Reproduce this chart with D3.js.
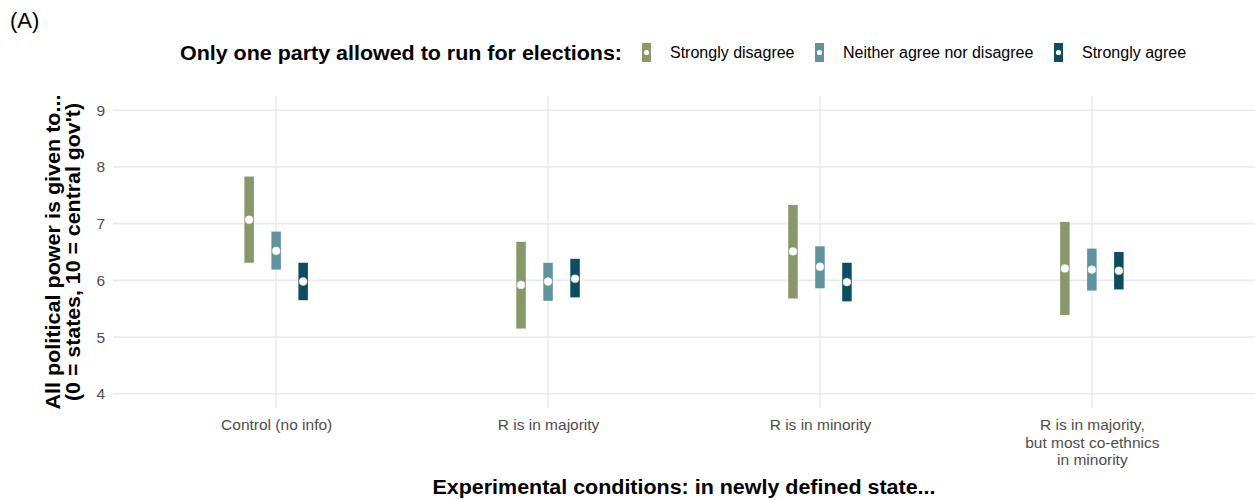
<!DOCTYPE html>
<html>
<head>
<meta charset="utf-8">
<script src="https://cdn.jsdelivr.net/npm/d3@7"></script>
<style>
  html, body { margin: 0; padding: 0; background: #fff; }
  svg { display: block; font-family: "Liberation Sans", Arial, Helvetica, sans-serif; }
</style>
</head>
<body>
<svg id="chart" width="1255" height="500"></svg>
<script>
// Experimental conditions (x categories)
const conditions = [
  "Control (no info)",
  "R is in majority",
  "R is in minority",
  "R is in majority,\nbut most co-ethnics\nin minority"
];
// Response groups (legend)
const responses = ["Strongly disagree", "Neither agree nor disagree", "Strongly agree"];
const colors = ["#87996a", "#5f939d", "#0b4e62"];

// Point estimates, per response, per condition
const estDisagree = [7.07, 5.92, 6.51, 6.21];
const estNeither  = [6.52, 5.98, 6.24, 6.19];
const estAgree    = [5.98, 6.03, 5.97, 6.17];
// Lower bounds of confidence intervals
const lowDisagree = [6.31, 5.15, 5.68, 5.39];
const lowNeither  = [6.19, 5.64, 5.86, 5.82];
const lowAgree    = [5.65, 5.70, 5.63, 5.84];
// Upper bounds of confidence intervals
const highDisagree = [7.83, 6.68, 7.33, 7.03];
const highNeither  = [6.86, 6.31, 6.60, 6.56];
const highAgree    = [6.31, 6.38, 6.31, 6.50];

const yTicks = [4, 5, 6, 7, 8, 9];

const est = [estDisagree, estNeither, estAgree];
const low = [lowDisagree, lowNeither, lowAgree];
const high = [highDisagree, highNeither, highAgree];

const rows = [];
responses.forEach((r, ri) => {
  conditions.forEach((c, ci) => {
    rows.push({ cond: c, resp: r, ri, est: est[ri][ci], lo: low[ri][ci], hi: high[ri][ci] });
  });
});

const svg = d3.select("#chart");
const panel = { left: 113, right: 1255, top: 96, bottom: 408 };

const x = d3.scalePoint().domain(conditions).range([panel.left, panel.right]).padding(0.6);
const y = d3.scaleLinear().domain([3.75, 9.25]).range([panel.bottom, panel.top]);
const dodge = d3.scalePoint().domain(responses).range([-27, 27]);

// Gridlines
const grid = svg.append("g");
grid.selectAll("line.h").data(yTicks).join("line")
  .attr("x1", panel.left).attr("x2", panel.right)
  .attr("y1", d => y(d)).attr("y2", d => y(d))
  .attr("stroke", "#ebebeb").attr("stroke-width", 1.6);
grid.selectAll("line.v").data(conditions).join("line")
  .attr("x1", d => x(d)).attr("x2", d => x(d))
  .attr("y1", panel.top).attr("y2", panel.bottom)
  .attr("stroke", "#ebebeb").attr("stroke-width", 1.6);

// Y axis
const yAxis = svg.append("g").attr("transform", `translate(${panel.left},0)`)
  .call(d3.axisLeft(y).tickValues(yTicks).tickFormat(d3.format("d")).tickSize(0).tickPadding(8));
yAxis.select(".domain").remove();
yAxis.selectAll("text").attr("font-size", 15.5).attr("fill", "#4d4d4d")
  .attr("font-family", "Liberation Sans, Arial, sans-serif");

// X axis
const xAxis = svg.append("g").attr("transform", `translate(0,${panel.bottom})`)
  .call(d3.axisBottom(x).tickSize(0).tickPadding(0).tickFormat(""));
xAxis.select(".domain").remove();
xAxis.selectAll(".tick").each(function(d) {
  const t = d3.select(this).append("text")
    .attr("fill", "#4d4d4d").attr("font-size", 15.5)
    .attr("text-anchor", "middle")
    .attr("font-family", "Liberation Sans, Arial, sans-serif");
  d.split("\n").forEach((line, i) => {
    t.append("tspan").attr("x", 0).attr("y", 22 + i * 17.5).text(line);
  });
});

// Confidence bars
const marks = svg.append("g");
marks.selectAll("rect").data(rows).join("rect")
  .attr("x", d => x(d.cond) + dodge(d.resp) - 4.75)
  .attr("width", 9.5)
  .attr("y", d => y(d.hi))
  .attr("height", d => y(d.lo) - y(d.hi))
  .attr("fill", d => colors[d.ri]);

// Point estimates
marks.selectAll("circle").data(rows).join("circle")
  .attr("cx", d => x(d.cond) + dodge(d.resp))
  .attr("cy", d => y(d.est))
  .attr("r", 3.9)
  .attr("fill", "#fff")
  .attr("stroke", "#e8eee9")
  .attr("stroke-width", 0.5);

// Axis titles
svg.append("text")
  .attr("x", (panel.left + panel.right) / 2).attr("y", 494)
  .attr("text-anchor", "middle").attr("font-weight", "bold").attr("font-size", 20)
  .attr("textLength", 503).attr("lengthAdjust", "spacingAndGlyphs")
  .attr("fill", "#000")
  .text("Experimental conditions: in newly defined state...");

const yt = svg.append("text")
  .attr("transform", `translate(0,${(panel.top + panel.bottom) / 2}) rotate(-90)`)
  .attr("text-anchor", "middle").attr("font-weight", "bold").attr("font-size", 19.5)
  .attr("fill", "#000");
yt.append("tspan").attr("x", 0).attr("y", 60)
  .attr("textLength", 315).attr("lengthAdjust", "spacingAndGlyphs")
  .text("All political power is given to...");
yt.append("tspan").attr("x", 0).attr("y", 80)
  .attr("textLength", 298).attr("lengthAdjust", "spacingAndGlyphs")
  .text("(0 = states, 10 = central gov't)");

// Panel tag
svg.append("text").attr("x", 10).attr("y", 28).attr("font-size", 22).attr("fill", "#000").text("(A)");

// Legend
const legend = svg.append("g");
legend.append("text").attr("x", 180).attr("y", 60)
  .attr("font-weight", "bold").attr("font-size", 20).attr("fill", "#000")
  .attr("textLength", 442).attr("lengthAdjust", "spacingAndGlyphs")
  .text("Only one party allowed to run for elections:");
const keyX = [642, 815, 1054];
responses.forEach((r, i) => {
  const g = legend.append("g").attr("transform", `translate(${keyX[i]},0)`);
  g.append("rect").attr("x", 0).attr("y", 43).attr("width", 9).attr("height", 19).attr("fill", colors[i]);
  g.append("circle").attr("cx", 4.5).attr("cy", 52.5).attr("r", 2.6).attr("fill", "#fff");
  g.append("text").attr("x", 28).attr("y", 58).attr("font-size", 16).attr("fill", "#000").text(r);
});
</script>
</body>
</html>
